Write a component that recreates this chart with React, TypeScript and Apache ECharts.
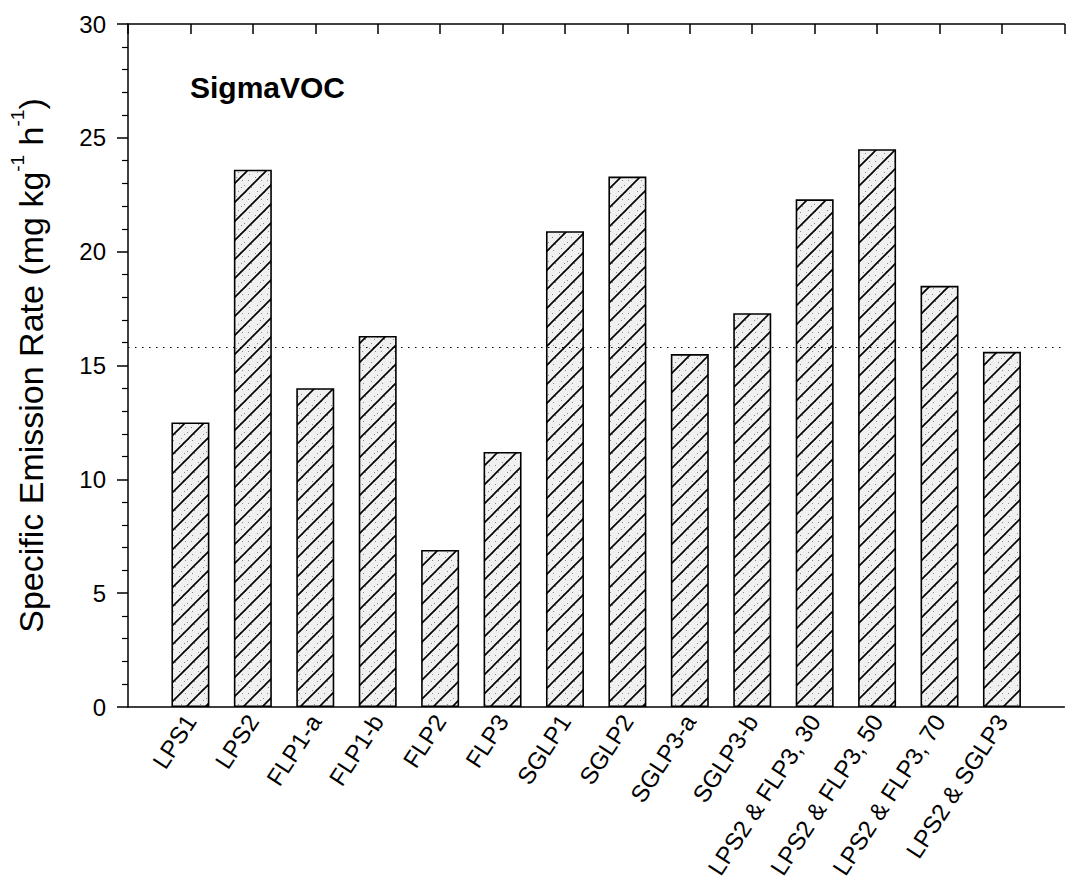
import React, { useEffect, useRef } from 'react';
import * as echarts from 'echarts';

const categories = [
  'LPS1', 'LPS2', 'FLP1-a', 'FLP1-b', 'FLP2', 'FLP3', 'SGLP1', 'SGLP2',
  'SGLP3-a', 'SGLP3-b', 'LPS2 & FLP3, 30', 'LPS2 & FLP3, 50', 'LPS2 & FLP3, 70', 'LPS2 & SGLP3',
];
const values = [12.5, 23.6, 14.0, 16.3, 6.9, 11.2, 20.9, 23.3, 15.5, 17.3, 22.3, 24.5, 18.5, 15.6];
const meanLine = 15.8;
const yMin = 0;
const yMax = 30;
const yStep = 5;
const titleText = 'SigmaVOC';

const FONT = '"Liberation Sans", Arial, Helvetica, sans-serif';

function makePattern(): HTMLCanvasElement {
  const size = 19;
  const c = document.createElement('canvas');
  c.width = size;
  c.height = size;
  const ctx = c.getContext('2d')!;
  ctx.fillStyle = '#f0f0f0';
  ctx.fillRect(0, 0, size, size);
  const dots = [[2, 3], [7, 11], [12, 5], [16, 14], [4, 16], [10, 1], [14, 9], [1, 9], [8, 6], [17, 2], [5, 13], [13, 16]];
  ctx.fillStyle = '#8c8c8c';
  dots.forEach(([x, y]) => ctx.fillRect(x, y, 1, 1));
  ctx.strokeStyle = '#000';
  ctx.lineWidth = 1.6;
  ctx.beginPath();
  ctx.moveTo(-2, size + 2);
  ctx.lineTo(size + 2, -2);
  ctx.moveTo(-2, 2);
  ctx.lineTo(2, -2);
  ctx.moveTo(size - 2, size + 2);
  ctx.lineTo(size + 2, size - 2);
  ctx.stroke();
  return c;
}

export default function App() {
  const ref = useRef<HTMLDivElement>(null);
  useEffect(() => {
    if (!ref.current) return;
    const chart = echarts.init(ref.current, undefined, { renderer: 'svg' });
    const pattern = makePattern();
    const axisData = ['', ...categories, ''];
    const seriesData: any[] = ['-', ...values, '-'];
    chart.setOption({
      animation: false,
      backgroundColor: '#fff',
      textStyle: { fontFamily: FONT },
      grid: { left: 125, right: -11, top: 24, bottom: 181 },
      graphic: [
        {
          type: 'text',
          left: 190,
          top: 72,
          style: { text: titleText, font: `bold 30px ${FONT}`, fill: '#000' },
        },
      ],
      xAxis: [
        {
          type: 'category',
          data: axisData,
          boundaryGap: false,
          position: 'bottom',
          axisLine: { show: true, lineStyle: { color: '#000', width: 1.5 } },
          axisTick: { show: false },
          axisLabel: {
            interval: 0,
            rotate: 57,
            fontSize: 24,
            color: '#000',
            margin: 10,
            fontFamily: FONT,
          },
          splitLine: { show: false },
        },
        {
          type: 'category',
          data: axisData,
          boundaryGap: false,
          position: 'top',
          axisLine: { show: true, lineStyle: { color: '#000', width: 1.5 } },
          axisTick: { show: true, inside: true, length: 10, interval: 0, lineStyle: { color: '#000', width: 1.5 } },
          axisLabel: { show: false },
          splitLine: { show: false },
        },
      ],
      yAxis: {
        type: 'value',
        min: yMin,
        max: yMax,
        interval: yStep,
        name: '{a|Specific Emission Rate (mg kg}{s|-1}{a| h}{s|-1}{a|)}',
        nameLocation: 'middle',
        nameGap: 80,
        nameTextStyle: {
          color: '#000',
          fontFamily: FONT,
          fontSize: 34,
          rich: {
            a: { fontSize: 34, fontFamily: FONT, color: '#000', verticalAlign: 'bottom', lineHeight: 40 },
            s: { fontSize: 19, fontFamily: FONT, color: '#000', verticalAlign: 'top', lineHeight: 19 },
          },
        },
        axisLine: { show: true, lineStyle: { color: '#000', width: 1.5 } },
        axisTick: { show: true, inside: false, length: 11, lineStyle: { color: '#000', width: 1.5 } },
        minorTick: { show: true, splitNumber: 5, length: 6, lineStyle: { color: '#000', width: 1.2 } },
        axisLabel: { fontSize: 24, color: '#000', margin: 22, fontFamily: FONT },
        splitLine: { show: false },
      },
      series: [
        {
          type: 'bar',
          data: seriesData,
          xAxisIndex: 0,
          barWidth: 38,
          itemStyle: {
            color: { image: pattern, repeat: 'repeat', imageWidth: 19, imageHeight: 19 } as any,
            borderColor: '#000',
            borderWidth: 1.6,
          },
          markLine: {
            silent: true,
            symbol: 'none',
            label: { show: false },
            lineStyle: { color: '#000', type: [1.5, 5.5], width: 1.2 },
            data: [{ yAxis: meanLine }],
          },
        },
      ],
    });
    return () => chart.dispose();
  }, []);
  return (
    <div
      ref={ref}
      style={{ position: 'fixed', left: 0, top: 0, width: 1066, height: 888, background: '#fff' }}
    />
  );
}
